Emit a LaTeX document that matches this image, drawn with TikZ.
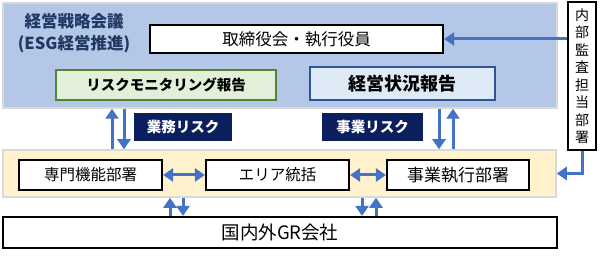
\documentclass[tikz,border=0pt]{standalone}
\usepackage{fontspec}
\setmainfont{Noto Sans CJK JP}
\usetikzlibrary{arrows.meta, positioning}
\definecolor{mPanelBlue}{HTML}{B4C7E7}
\definecolor{mPanelCream}{HTML}{FFF2CC}
\definecolor{mPanelLine}{HTML}{D9D9D9}
\definecolor{mNavy}{HTML}{0B1F5E}
\definecolor{mTitle}{HTML}{203864}
\definecolor{mGreenFill}{HTML}{E2F0D9}
\definecolor{mGreenLine}{HTML}{548235}
\definecolor{mBlueFill}{HTML}{DEEBF7}
\definecolor{mBlueLine}{HTML}{2F5597}
\definecolor{mArrow}{HTML}{4472C4}
\tikzset{
  panel/.style={draw=mPanelLine, line width=1.5pt, inner sep=0pt},
  unit/.style={draw=black, line width=2.2pt, fill=white, inner sep=0pt},
  rpt/.style={line width=1.6pt, inner sep=0pt},
  risk/.style={fill=mNavy, text=white, inner sep=0pt,
               font=\bfseries\fontsize{14.5}{16}\selectfont},
  flow/.style={mArrow, line width=3pt, -{Triangle[length=10pt, width=13pt]}},
  flowboth/.style={mArrow, line width=3pt,
                   {Triangle[length=10pt, width=13pt]}-{Triangle[length=10pt, width=13pt]}},
}

\begin{document}
\begin{tikzpicture}[x=1pt, y=-1pt]
    \useasboundingbox (0,0) rectangle (600,259);
    % panels
    \node[panel, fill=mPanelBlue, minimum width=554pt, minimum height=105pt] (toppanel) at (280,55.5) {};
    \node[panel, fill=mPanelCream, minimum width=553pt, minimum height=47pt] (lowpanel) at (279.5,173.5) {};
    % management level
    \node[text=mTitle, align=center, font=\bfseries\fontsize{16.5}{22}\selectfont] (title) at (74,33)
      {経営戦略会議\\(ESG経営推進)};
    \node[unit, minimum width=293pt, minimum height=28pt, font=\fontsize{16.5}{18}\selectfont] (board) at (296.5,39)
      {取締役会・執行役員};
    \node[rpt, draw=mGreenLine, fill=mGreenFill, minimum width=220pt, minimum height=30pt,
          font=\bfseries\fontsize{14.5}{16}\selectfont] (monitor) at (166,85) {リスクモニタリング報告};
    \node[rpt, draw=mBlueLine, fill=mBlueFill, minimum width=185pt, minimum height=33pt,
          font=\bfseries\fontsize{18}{20}\selectfont] (status) at (402.5,83.5) {経営状況報告};
    \node[unit, minimum width=28pt, minimum height=148pt, align=center,
          font=\fontsize{14}{17.5}\selectfont] (audit) at (582,76)
      {内\\部\\監\\査\\担\\当\\部\\署};
    % risk labels
    \node[risk, minimum width=98pt, minimum height=28pt] (bizrisk) at (183,127) {業務リスク};
    \node[risk, minimum width=101pt, minimum height=28pt] (entrisk) at (372.5,127) {事業リスク};
    % execution level
    \node[unit, minimum width=143pt, minimum height=30pt, font=\fontsize{15.5}{17}\selectfont] (spec) at (90.5,175) {専門機能部署};
    \node[unit, minimum width=143pt, minimum height=30pt, font=\fontsize{15.5}{17}\selectfont] (area) at (277.5,175) {エリア統括};
    \node[unit, minimum width=142pt, minimum height=30pt, font=\fontsize{17}{19}\selectfont] (exec) at (458,175) {事業執行部署};
    \node[unit, minimum width=554pt, minimum height=31pt, font=\fontsize{18.5}{20}\selectfont] (group) at (280,232.5) {国内外GR会社};
    % connectors
    \draw[flow] (audit.west |- board.east) -- (board.east);
    \draw[flow] (audit.south) |- (lowpanel.east);
    \draw[flowboth] (spec) -- (area);
    \draw[flowboth] (area) -- (exec);
    \draw[flow] (lowpanel.north -| 112,0) -- (toppanel.south -| 112,0);
    \draw[flow] (toppanel.south -| 124,0) -- (lowpanel.north -| 124,0);
    \draw[flow] (toppanel.south -| 439,0) -- (lowpanel.north -| 439,0);
    \draw[flow] (lowpanel.north -| 453,0) -- (toppanel.south -| 453,0);
    \draw[flow] (group.north -| 170,0) -- (lowpanel.south -| 170,0);
    \draw[flow] (lowpanel.south -| 183,0) -- (group.north -| 183,0);
    \draw[flow] (lowpanel.south -| 362,0) -- (group.north -| 362,0);
    \draw[flow] (group.north -| 376,0) -- (lowpanel.south -| 376,0);
\end{tikzpicture}
\end{document}
